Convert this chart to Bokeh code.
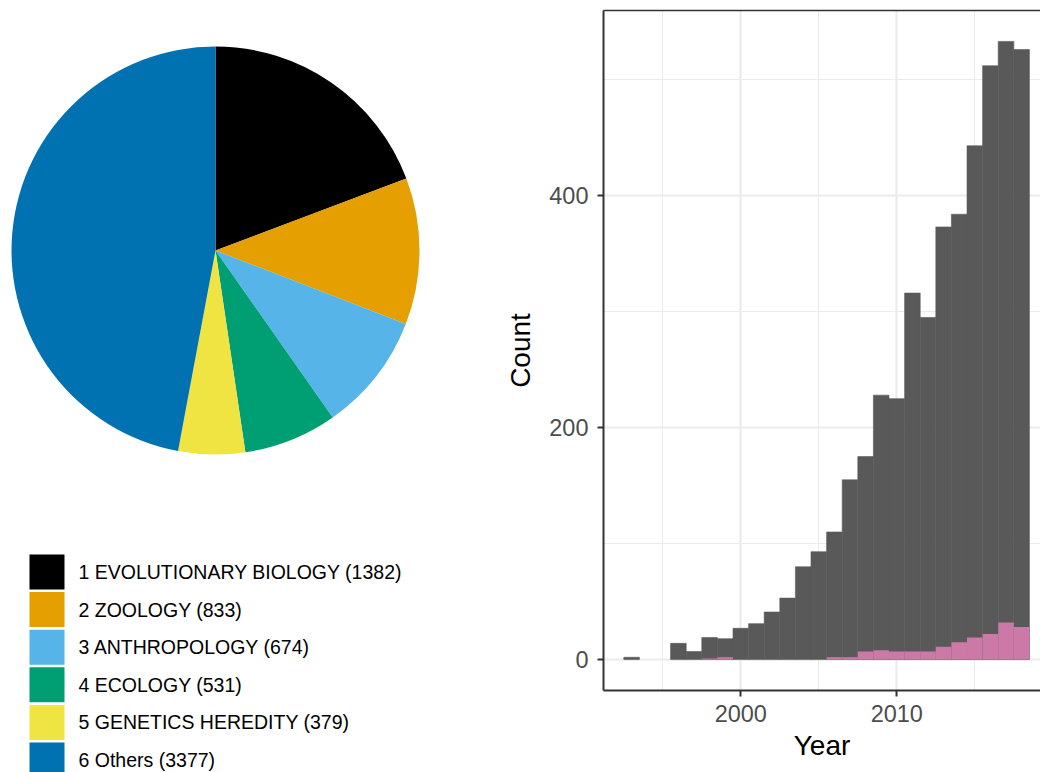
import numpy as np
from bokeh.plotting import figure
from bokeh.layouts import row
from bokeh.models import Range1d, FixedTicker, LinearAxis, ColumnDataSource
from bokeh.core.properties import value
from bokeh.embed import file_html
from bokeh.resources import INLINE

# ---- subject categories (pie) ----
categories = ["1 EVOLUTIONARY BIOLOGY", "2 ZOOLOGY", "3 ANTHROPOLOGY",
              "4 ECOLOGY", "5 GENETICS HEREDITY", "6 Others"]
category_counts = [1382, 833, 674, 531, 379, 3377]
category_colors = ["#000000", "#E69F00", "#56B4E9", "#009E73", "#F0E442", "#0072B2"]

# ---- publications per year (histogram) ----
years = list(range(1993, 2019))
year_totals = [2, 0, 0, 14, 7, 19, 18, 27, 31, 41, 53, 80, 93, 110,
               155, 175, 228, 225, 316, 295, 373, 384, 443, 512, 533, 526]
year_subset = [0, 0, 0, 0, 0, 1, 2, 0, 0, 0, 0, 0, 0, 2,
               2, 7, 8, 7, 7, 7, 11, 15, 19, 22, 32, 28]
y_ticks = [0, 200, 400]
y_minor = [100, 300, 500]
x_ticks = [2000, 2010]
x_minor = [1995, 2005, 2015]

FONT = "Liberation Sans"
W_PIE, H = 500, 772

# ---------------- pie panel ----------------
pie = figure(width=W_PIE, height=H, x_range=Range1d(0, W_PIE), y_range=Range1d(0, H),
             output_backend="svg", toolbar_location=None, min_border=0)
pie.frame_align = False
pie.axis.visible = False
pie.grid.visible = False
pie.outline_line_color = None

counts = np.array(category_counts, dtype=float)
frac = counts / counts.sum()
cum_end = np.cumsum(frac)
cum_start = cum_end - frac
cx, cy, r = 215, H - 250, 204
pie_src = ColumnDataSource(dict(
    start=np.pi / 2 - 2 * np.pi * cum_start,
    end=np.pi / 2 - 2 * np.pi * cum_end,
    color=category_colors,
))
pie.wedge(x=cx, y=cy, radius=r, start_angle="start", end_angle="end",
          direction="clock", fill_color="color", line_color=None, source=pie_src)

# legend below the pie
idx = np.arange(len(categories))
key_y = H - (571.5 + idx * 37.6)
leg_src = ColumnDataSource(dict(
    y=key_y,
    color=category_colors,
    label=[f"{c} ({n})" for c, n in zip(categories, category_counts)],
))
pie.rect(x=46.5, y="y", width=35, height=35, fill_color="color", line_color=None,
         source=leg_src)
pie.text(x=78, y="y", text="label", text_font=value(FONT), text_font_size="19.5px",
         text_baseline="middle", text_align="left", text_color="#000000", source=leg_src)

# ---------------- histogram panel ----------------
hist = figure(width=1040 - W_PIE, height=H,
              x_range=Range1d(1991.2, 2019.21), y_range=Range1d(-26.65, 559.65),
              output_backend="svg", toolbar_location=None,
              min_border_left=103, min_border_right=0, min_border_top=10,
              min_border_bottom=82)
hist.frame_align = False
hist.outline_line_color = None
hist.background_fill_color = "white"

# only non-empty bins are drawn
yr = np.array(years)
tot = np.array(year_totals)
sub = np.array(year_subset)
all_src = ColumnDataSource(dict(x=yr[tot > 0], top=tot[tot > 0]))
sub_src = ColumnDataSource(dict(x=yr[sub > 0], top=sub[sub > 0]))

# thin outline in the fill colour hides seams between adjacent bins
hist.vbar(x="x", top="top", bottom=0, width=1.0, source=all_src,
          fill_color="#595959", line_color="#595959", line_width=0.6)
hist.vbar(x="x", top="top", bottom=0, width=1.0, source=sub_src,
          fill_color="#CC79A7", line_color=None)

hist.xaxis.ticker = FixedTicker(ticks=x_ticks, minor_ticks=x_minor)
hist.yaxis.ticker = FixedTicker(ticks=y_ticks, minor_ticks=y_minor)
hist.xgrid.ticker = hist.xaxis.ticker
hist.ygrid.ticker = hist.yaxis.ticker
for g in (hist.xgrid, hist.ygrid):
    g.grid_line_color = "#EBEBEB"
    g.grid_line_width = 2.2
    g.minor_grid_line_color = "#EBEBEB"
    g.minor_grid_line_width = 1.1

for ax in (hist.xaxis, hist.yaxis):
    ax.axis_line_color = "#333333"
    ax.axis_line_width = 2
    ax.major_tick_line_color = "#333333"
    ax.major_tick_line_width = 2
    ax.major_tick_in = 0
    ax.major_tick_out = 6
    ax.minor_tick_line_color = None
    ax.major_label_text_font = FONT
    ax.major_label_text_font_size = "23.5px"
    ax.major_label_text_color = "#4D4D4D"
    ax.axis_label_text_font = FONT
    ax.axis_label_text_font_size = "28px"
    ax.axis_label_text_font_style = "normal"
    ax.axis_label_text_color = "#000000"

hist.xaxis.axis_label = "Year"
hist.yaxis.axis_label = "Count"
hist.xaxis.major_label_standoff = 8
hist.yaxis.major_label_standoff = 9
hist.xaxis.axis_label_standoff = 5
hist.yaxis.axis_label_standoff = 10

# top border of the panel
top_border = LinearAxis(ticker=FixedTicker(ticks=[]), axis_line_color="#333333",
                        axis_line_width=1.3, major_tick_line_color=None,
                        minor_tick_line_color=None, major_label_text_font_size="0px",
                        major_label_standoff=0)
hist.add_layout(top_border, "above")

layout = row(pie, hist)
open("out.html", "w").write(file_html(layout, INLINE))
